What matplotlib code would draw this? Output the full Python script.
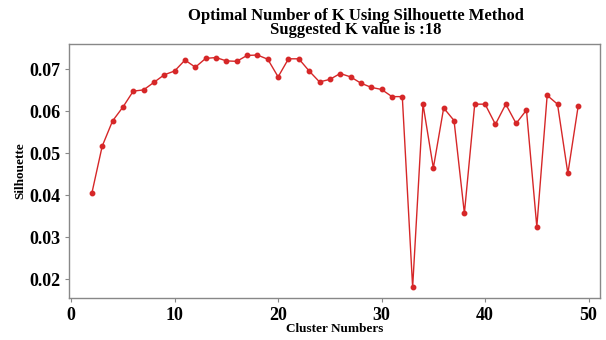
import numpy as np
import matplotlib.pyplot as plt

k_values = list(range(2, 50))
silhouette = [0.0405, 0.0517, 0.0577, 0.0610, 0.0648, 0.0651, 0.0669, 0.0687, 0.0696,
              0.0722, 0.0705, 0.0726, 0.0728, 0.0720, 0.0719, 0.0733, 0.0734, 0.0724,
              0.0682, 0.0725, 0.0725, 0.0696, 0.0670, 0.0676, 0.0690, 0.0682, 0.0667,
              0.0657, 0.0652, 0.0635, 0.0635, 0.0181, 0.0617, 0.0465, 0.0608, 0.0578,
              0.0357, 0.0617, 0.0617, 0.0569, 0.0617, 0.0571, 0.0603, 0.0325, 0.0638,
              0.0617, 0.0452, 0.0613]
best_k = 18

plt.rcParams['font.family'] = ['Liberation Serif', 'DejaVu Serif']
plt.rcParams['font.weight'] = 'bold'

fig = plt.figure(figsize=(6.06, 3.40), dpi=100)
ax = fig.add_axes([0.114, 0.1235, 0.876, 0.7485])

ax.plot(k_values, silhouette, color='#d62728', linewidth=1.0,
        marker='o', markersize=3.2, markerfacecolor='#d62728', markeredgecolor='#d62728')

ax.set_xlim(-0.2, 51.1)
ax.set_ylim(0.01555, 0.07614)
ax.set_xticks([0, 10, 20, 30, 40, 50])
ax.set_yticks([0.02, 0.03, 0.04, 0.05, 0.06, 0.07])
ax.tick_params(axis='both', labelsize=13, length=3, color='#888888', width=0.8)
for lab in ax.get_xticklabels() + ax.get_yticklabels():
    lab.set_fontweight('bold')
for s in ax.spines.values():
    s.set_color('#888888')
    s.set_linewidth(1.0)

# titulo levemente deslocado para a direita, como no original
ax.set_title('Optimal Number of K Using Silhouette Method\nSuggested K value is :' + str(best_k),
             fontsize=12, fontweight='bold', linespacing=0.9, pad=6.5, x=0.54)
ax.set_xlabel('Cluster Numbers', fontsize=9.5, fontweight='bold', labelpad=-1)
ax.set_ylabel('Silhouette', fontsize=9.5, fontweight='bold', labelpad=2)

fig.savefig('out.png', dpi=100)
